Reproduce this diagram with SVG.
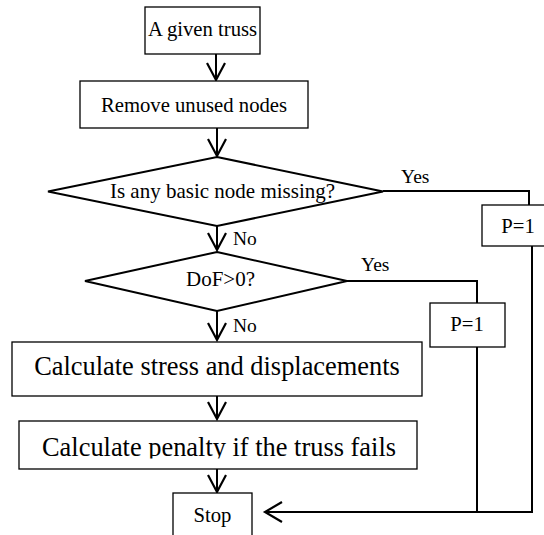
<svg xmlns="http://www.w3.org/2000/svg" width="544" height="535" viewBox="0 0 544 535">
  <style>
    .box { fill: #fff; stroke: #000; stroke-width: 1.3; }
    .dia { fill: #fff; stroke: #000; stroke-width: 2; }
    .wire { fill: none; stroke: #000; stroke-width: 2; }
    .head { fill: none; stroke: #000; stroke-width: 2.2; stroke-linejoin: miter; }
    text { font-family: "Liberation Serif", "Times New Roman", serif; fill: #000; }
    .t20 { font-size: 20.7px; }
    .t21 { font-size: 21px; }
    .t26 { font-size: 26.4px; }
    .lbl { font-size: 19.5px; }
  </style>
  <defs>
    <clipPath id="penaltyClip">
      <rect x="19" y="421" width="398" height="37.5"/>
    </clipPath>
  </defs>
  <rect width="544" height="535" fill="#fff"/>

  <!-- connectors -->
  <g id="connectors">
    <!-- main downward flow -->
    <line class="wire" x1="216" y1="54" x2="216" y2="80"/>
    <polyline class="head" points="207,63 216,80 225,63"/>
    <line class="wire" x1="217" y1="128" x2="217" y2="156"/>
    <polyline class="head" points="208,139 217,156 226,139"/>
    <line class="wire" x1="217" y1="226" x2="217" y2="250"/>
    <polyline class="head" points="208,233 217,250 226,233"/>
    <line class="wire" x1="217" y1="311" x2="217" y2="340"/>
    <polyline class="head" points="208,323 217,340 226,323"/>
    <line class="wire" x1="217" y1="396" x2="217" y2="419"/>
    <polyline class="head" points="208,402 217,419 226,402"/>
    <line class="wire" x1="217" y1="469" x2="217" y2="492"/>
    <polyline class="head" points="208,475 217,492 226,475"/>
    <!-- Yes branch of first decision -->
    <polyline class="wire" points="383,191 529,191 529,205"/>
    <!-- Yes branch of second decision -->
    <polyline class="wire" points="347,281 477,281 477,303"/>
    <!-- return paths to Stop -->
    <polyline class="wire" points="532,246 532,512 265,512"/>
    <line class="wire" x1="477" y1="347" x2="477" y2="512"/>
    <polyline class="head" points="282,502 265,512 282,522"/>
    <!-- branch labels -->
    <text class="lbl" x="401" y="183">Yes</text>
    <text class="lbl" x="233" y="245">No</text>
    <text class="lbl" x="361" y="271">Yes</text>
    <text class="lbl" x="233" y="332">No</text>
  </g>

  <g id="start">
    <rect class="box" x="145" y="7" width="115" height="47"/>
    <text class="t20" x="202.5" y="36" text-anchor="middle">A given truss</text>
  </g>

  <g id="remove-unused">
    <rect class="box" x="80" y="81" width="228" height="47"/>
    <text class="t20" x="194" y="112" text-anchor="middle">Remove unused nodes</text>
  </g>

  <g id="basic-node-check">
    <polygon class="dia" points="217,157 383,191.5 217,226 48,191.5"/>
    <text class="t21" x="222.5" y="198" text-anchor="middle">Is any basic node missing?</text>
  </g>

  <g id="penalty-a">
    <rect class="box" x="482" y="205" width="76" height="41"/>
    <text class="t20" x="518" y="233" text-anchor="middle">P=1</text>
  </g>

  <g id="dof-check">
    <polygon class="dia" points="217,252 347,281 217,311 85,281"/>
    <text class="t21" x="220.5" y="286" text-anchor="middle">DoF&gt;0?</text>
  </g>

  <g id="penalty-b">
    <rect class="box" x="430" y="303" width="75" height="44"/>
    <text class="t20" x="467" y="331" text-anchor="middle">P=1</text>
  </g>

  <g id="stress">
    <rect class="box" x="12" y="342" width="410" height="54"/>
    <text class="t26" x="217" y="375" text-anchor="middle">Calculate stress and displacements</text>
  </g>

  <g id="penalty-calc">
    <rect class="box" x="19" y="421" width="398" height="48"/>
    <text class="t26" x="219" y="456" text-anchor="middle" clip-path="url(#penaltyClip)">Calculate penalty if the truss fails</text>
  </g>

  <g id="stop">
    <rect class="box" x="173" y="493" width="79" height="50"/>
    <text class="t20" x="212.5" y="522" text-anchor="middle">Stop</text>
  </g>
</svg>
